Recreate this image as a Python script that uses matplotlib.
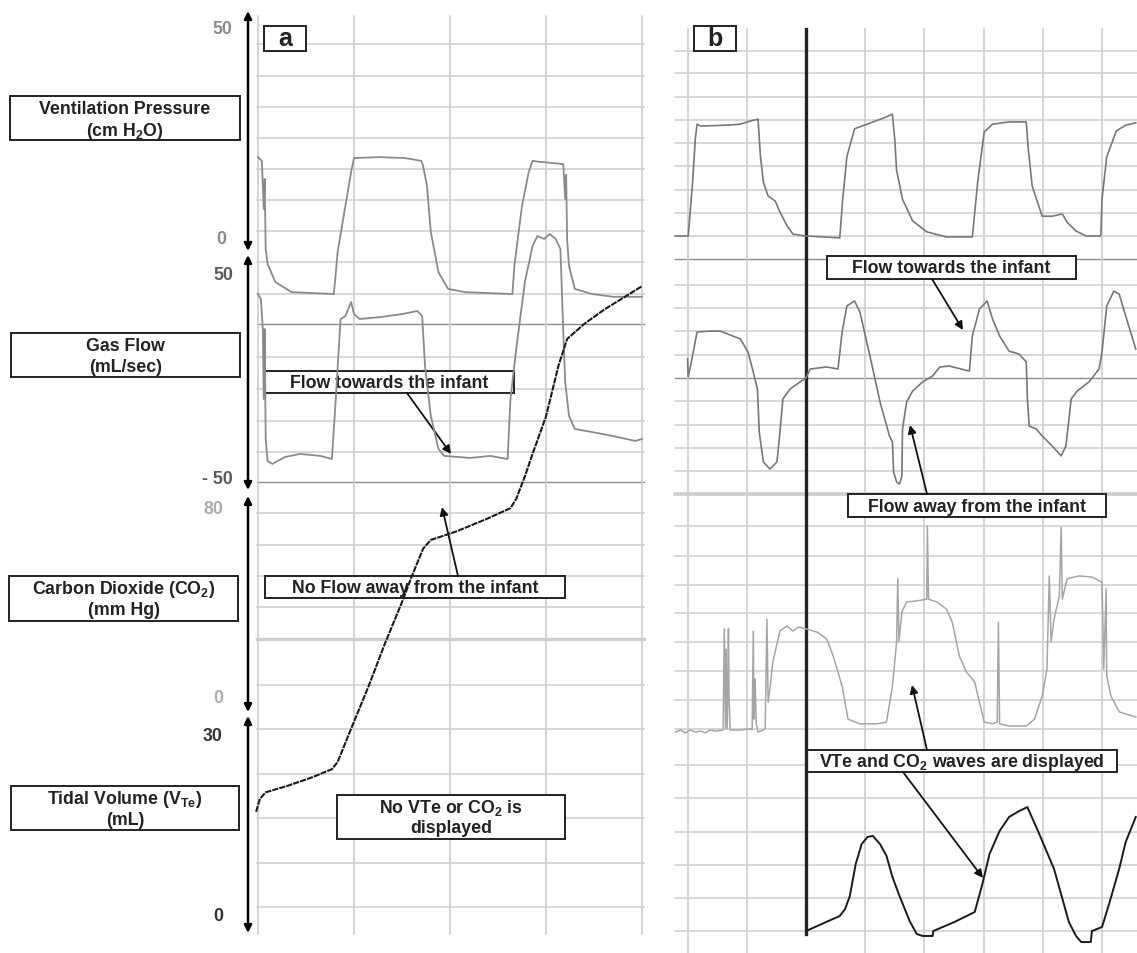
import matplotlib
matplotlib.use("Agg")
import matplotlib.pyplot as plt
from matplotlib.patches import Rectangle

plt.rcParams['font.family'] = ['Liberation Sans', 'DejaVu Sans']
plt.rcParams['font.weight'] = 'bold'
plt.rcParams['mathtext.fontset'] = 'custom'
plt.rcParams['mathtext.rm'] = 'Liberation Sans:bold'
plt.rcParams['mathtext.it'] = 'Liberation Sans:bold'
plt.rcParams['mathtext.bf'] = 'Liberation Sans:bold'
plt.rcParams['mathtext.default'] = 'rm'

# ---------------- DATA ----------------
# Panel a: time in grid divisions
a_pres_t = [0, 0.04, 0.06, 0.07, 0.08, 0.10, 0.18, 0.35, 0.79, 0.83, 0.91, 0.97, 1.00, 1.27, 1.53,
            1.70, 1.72, 1.76, 1.80, 1.88, 1.98, 2.16, 2.65, 2.67, 2.75, 2.82, 2.86, 2.93, 3.18,
            3.20, 3.21, 3.22, 3.24, 3.30, 3.48, 3.70, 4.00]
a_pres_v = [19.8, 19.0, 8.6, 15.1, 0.0, -3.2, -7.1, -9.3, -9.7, -0.6, 9.3, 16.6, 19.6, 19.8, 19.6,
            19.0, 17.9, 13.6, 3.7, -5.0, -8.6, -9.3, -9.7, -3.7, 9.3, 16.6, 19.0, 18.8, 18.3,
            10.8, 16.0, 2.0, -3.7, -8.6, -9.7, -10.3, -10.3]

a_flow_t = [0, 0.03, 0.05, 0.06, 0.07, 0.08, 0.10, 0.15, 0.28, 0.44, 0.65, 0.77, 0.81, 0.86, 0.91,
            0.97, 1.00, 1.06, 1.28, 1.50, 1.66, 1.71, 1.74, 1.80, 1.88, 1.94, 2.21, 2.42, 2.60,
            2.63, 2.69, 2.78, 2.86, 2.91, 2.98, 3.04, 3.10, 3.15, 3.18, 3.20, 3.24, 3.30, 3.48,
            3.70, 3.93, 4.00]
a_flow_v = [33.4, 31.2, 17.7, -13.7, 17.7, -31.6, -41.5, -42.8, -39.7, -38.3, -39.2, -40.6, -13.7,
            22.2, 23.5, 29.8, 24.4, 22.2, 23.1, 24.4, 25.8, 23.5, 1.1, -21.3, -36.1, -39.2, -40.1,
            -39.2, -40.6, -13.7, 8.7, 38.8, 54.9, 59.4, 58.1, 60.3, 58.1, 53.6, 16.4, -6.1, -21.3,
            -27.1, -28.5, -30.3, -32.5, -31.6]

a_vte_t = [-0.02, 0.02, 0.08, 0.31, 0.57, 0.77, 0.83, 0.97, 1.15, 1.32, 1.50, 1.60, 1.72, 1.80,
           2.07, 2.38, 2.63, 2.69, 2.78, 2.86, 3.00, 3.13, 3.22, 3.40, 3.61, 3.83, 4.00]
a_vte_v = [16.9, 18.7, 19.6, 20.5, 21.7, 22.8, 23.8, 28.4, 34.2, 40.1, 45.9, 49.4, 53.3, 54.5,
           55.7, 57.4, 58.9, 60.2, 63.3, 66.4, 71.6, 78.6, 82.3, 84.4, 86.4, 88.2, 89.6]

# Panel b: time in grid divisions, 0 at the event line
b_pres_t = [-2.21, -1.99, -1.92, -1.87, -1.84, -1.78, -1.33, -1.11, -0.94, -0.81, -0.77, -0.72,
            -0.64, -0.52, -0.44, -0.32, -0.22, 0, 0.57, 0.62, 0.69, 0.82, 1.03, 1.36, 1.46, 1.50,
            1.53, 1.63, 1.80, 2.04, 2.37, 2.81, 2.90, 3.01, 3.15, 3.43, 3.72, 3.75, 3.82, 3.91,
            3.99, 4.16, 4.33, 4.41, 4.56, 4.73, 4.98, 5.00, 5.08, 5.24, 5.40, 5.57]
b_pres_v = [0, 0, 10.9, 21.1, 24.3, 23.9, 24.1, 24.3, 25.0, 25.4, 17.4, 11.7, 8.7, 7.6, 5.2, 2.2,
            0.4, 0, -0.4, 8.0, 17.2, 23.3, 24.3, 25.9, 26.5, 20.9, 14.3, 8.0, 3.3, 0.9, -0.2, -0.2,
            11.7, 22.6, 24.3, 24.8, 24.8, 19.6, 10.9, 7.4, 4.3, 4.3, 4.8, 3.0, 1.1, 0, 0, 8.0,
            17.2, 22.8, 24.1, 24.6]

b_flow_t = [-2.00, -1.99, -1.95, -1.84, -1.62, -1.45, -1.28, -1.11, -0.98, -0.89, -0.82, -0.79,
            -0.72, -0.61, -0.49, -0.44, -0.39, -0.27, -0.10, 0, 0.07, 0.35, 0.54, 0.61, 0.69,
            0.82, 0.91, 1.08, 1.25, 1.41, 1.46, 1.48, 1.53, 1.58, 1.62, 1.63, 1.70, 1.80, 1.97,
            2.14, 2.26, 2.42, 2.76, 2.81, 2.93, 3.06, 3.15, 3.27, 3.43, 3.60, 3.72, 3.74, 3.77,
            3.89, 3.99, 4.16, 4.31, 4.39, 4.48, 4.58, 4.78, 4.95, 5.00, 5.08, 5.20, 5.29, 5.40,
            5.57]
b_flow_v = [8.3, 0.4, 5.2, 20.0, 20.4, 20.4, 18.7, 17.0, 11.3, 2.6, -4.8, -23.5, -36.5, -39.6,
            -36.5, -23.5, -9.1, -4.8, -1.7, 0, 3.9, 4.8, 3.9, 20.0, 31.3, 33.5, 28.7, 9.6, -10.4,
            -25.2, -27.8, -40.9, -45.2, -46.1, -42.6, -22.2, -10.4, -5.7, -1.7, 0.9, 4.8, 5.2,
            3.0, 18.3, 30.0, 33.5, 25.7, 18.3, 11.7, 10.4, 7.0, -9.1, -20.9, -22.2, -25.2, -29.6,
            -33.9, -29.6, -9.1, -5.7, -1.7, 3.9, 11.3, 31.3, 37.8, 36.5, 27.0, 12.6]

b_co2_t = [-2.205, -2.12, -2.04, -1.95, -1.87, -1.78, -1.70, -1.62, -1.53, -1.40, -1.38, -1.36,
           -1.35, -1.33, -1.31, -1.30, -1.28, -1.11, -0.94, -0.91, -0.89, -0.88, -0.86, -0.84,
           -0.81, -0.72, -0.69, -0.66, -0.64, -0.61, -0.56, -0.44, -0.32, -0.22, -0.13, 0,
           0.19, 0.35, 0.46, 0.61, 0.71, 0.91, 1.20, 1.36, 1.46, 1.53, 1.55, 1.57, 1.62, 1.70,
           1.87, 2.04, 2.05, 2.07, 2.21, 2.37, 2.47, 2.59, 2.71, 2.85, 2.93, 3.01, 3.15, 3.23,
           3.25, 3.27, 3.43, 3.72, 3.86, 3.99, 4.07, 4.11, 4.14, 4.19, 4.28, 4.31, 4.33, 4.41,
           4.61, 4.83, 5.00, 5.03, 5.07, 5.08, 5.15, 5.29, 5.57]
b_co2_v = [-0.6, 0, -0.8, 0, -0.6, -0.3, -0.8, 0, -0.3, 0, 27.9, 0.3, 22.3, 0.3, 27.9, 8.6, 0,
           0, 0.3, 0, 27.3, 3.0, 14.1, 1.7, -0.6, 0, 0.3, 30.6, 7.7, 11.3, 18.8, 27.3, 28.7,
           27.3, 28.4, 27.9, 27.0, 25.1, 20.4, 12.1, 3.0, 1.7, 1.7, 2.2, 12.1, 24.3, 41.7, 24.3,
           32.6, 35.3, 35.6, 36.1, 56.3, 36.1, 35.3, 33.4, 29.8, 20.4, 16.0, 13.2, 7.7, 2.2,
           1.7, 2.2, 29.8, 1.7, 1.1, 1.1, 3.0, 9.4, 16.8, 42.5, 24.3, 30.6, 37.0, 56.0, 36.1,
           41.7, 42.5, 42.2, 40.8, 16.8, 38.9, 14.9, 9.4, 5.0, 3.6]

b_vte_t = [0, 0.57, 0.66, 0.74, 0.84, 0.94, 1.04, 1.13, 1.25, 1.36, 1.46, 1.58, 1.75, 1.87, 1.97,
           2.14, 2.15, 2.51, 2.85, 2.98, 3.10, 3.27, 3.43, 3.60, 3.74, 3.94, 4.19, 4.44, 4.56,
           4.65, 4.81, 4.83, 5.00, 5.12, 5.29, 5.40, 5.57]
b_vte_v = [0, 0.91, 1.33, 2.12, 4.06, 5.27, 5.70, 5.76, 5.27, 4.55, 3.27, 2.12, 0.61, -0.18,
           -0.30, -0.30, 0, 0.55, 1.15, 2.85, 4.67, 6.06, 6.91, 7.27, 7.51, 5.88, 3.76, 0.55,
           -0.30, -0.67, -0.67, 0, 0.24, 1.64, 3.76, 5.39, 6.91]

a_ticks = ["50", "0", "50", "- 50", "80", "0", "30", "0"]
left_labels = [("Ventilation Pressure", "(cm H$_2$O)"),
               ("Gas Flow", "(mL/sec)"),
               ("Carbon Dioxide (CO$_2$)", "(mm Hg)"),
               ("Tidal Volume (V$_{\\mathrm{Te}}$)", "(mL)")]

# ---------------- LAYOUT ----------------
W, H = 1137, 954
FS = 12.8
fig = plt.figure(figsize=(W / 100, H / 100), dpi=100)
bg = fig.add_axes([0, 0, 1, 1])
bg.set_xlim(0, W)
bg.set_ylim(H, 0)
bg.axis('off')
bg.set_zorder(0)

GRID = '#cdcdcd'
DARK = '#8e8e8e'

# panel geometry (pixels)
A_X0, A_X1, A_Y0, A_Y1 = 258, 642, 18, 935
A_XLIM = (0, 4)
B_X0, B_X1, B_Y0, B_Y1 = 675, 1137, 18, 954
B_ORIG, B_DIV = 806, 59.2
B_XLIM = ((B_X0 - B_ORIG) / B_DIV, (B_X1 - B_ORIG) / B_DIV)


def t2px(t, x0, x1, xlim):
    return x0 + (t - xlim[0]) / (xlim[1] - xlim[0]) * (x1 - x0)


# horizontal grid rows
a_rows = [45, 77, 108, 139, 170, 201, 232, 263, 295, 358, 390, 422, 453, 514, 546, 577, 608,
          686, 730, 775, 819, 864, 908]
for y in a_rows:
    bg.plot([257, 644], [y, y], color=GRID, lw=1.1, zorder=1)
for y in [325, 483]:
    bg.plot([257, 644], [y, y], color=DARK, lw=1.0, zorder=1)
bg.plot([257, 644], [640, 640], color=GRID, lw=2.4, zorder=1)
for t in range(0, 5):
    x = t2px(t, A_X0, A_X1, A_XLIM)
    bg.plot([x, x], [17, 935], color=GRID, lw=1.2, zorder=1)

b_rows = [52, 74, 98, 121, 144, 167, 191, 214, 237, 286, 309, 332, 356, 402, 426, 449, 472,
          527, 557, 586, 614, 643, 672, 701, 730, 766, 799, 833, 866, 899, 932]
for y in b_rows:
    bg.plot([675, 1137], [y, y], color=GRID, lw=1.1, zorder=1)
for y in [260, 379]:
    bg.plot([675, 1137], [y, y], color=DARK, lw=1.0, zorder=1)
bg.plot([675, 1137], [495, 495], color=GRID, lw=2.6, zorder=1)
for t in [-2, -1, 1, 2, 3, 4, 5]:
    x = t2px(t, B_X0, B_X1, B_XLIM)
    bg.plot([x, x], [30, 954], color=GRID, lw=1.2, zorder=1)
xe = t2px(0, B_X0, B_X1, B_XLIM)
bg.plot([xe, xe], [30, 935], color='#222222', lw=2.4, zorder=6)


def box(x0, y0, x1, y1, lw=1.4, z=3):
    bg.add_patch(Rectangle((x0, y0), x1 - x0, y1 - y0, facecolor='white',
                           edgecolor='#222222', lw=lw, zorder=z))


# left label boxes
lbl_boxes = [(10, 97, 240, 141), (11, 334, 240, 378), (9, 577, 238, 622), (11, 787, 239, 831)]
for (x0, y0, x1, y1), (l1, l2) in zip(lbl_boxes, left_labels):
    box(x0, y0, x1, y1)
    cx = (x0 + x1) / 2
    bg.text(cx, y0 + 13, l1, ha='center', va='center', fontsize=FS, color='#222222', zorder=4)
    bg.text(cx, y0 + 34, l2, ha='center', va='center', fontsize=FS, color='#222222', zorder=4)

# left scale arrows
for ytop, ybot in [(12, 252), (256, 491), (497, 713), (717, 934)]:
    bg.annotate('', xy=(248, ytop), xytext=(248, ybot),
                arrowprops=dict(arrowstyle='<|-|>', color='black', lw=1.8,
                                mutation_scale=11, shrinkA=0, shrinkB=0), zorder=5)

tick_pos = [(232, 29), (226, 240), (233, 276), (233, 480), (223, 510), (223, 699), (223, 737),
            (223, 917)]
tick_col = ['#8a8a8a', '#8a8a8a', '#5a5a5a', '#5a5a5a', '#ababab', '#ababab', '#333333', '#333333']
for s, (x, y), c in zip(a_ticks, tick_pos, tick_col):
    bg.text(x, y, s, ha='right', va='center', fontsize=12.8, color=c, zorder=4)

# panel letters
box(264, 27, 306, 52)
bg.text(285, 39.5, 'a', ha='center', va='center', fontsize=18, color='#222222', zorder=4)
box(694, 27, 736, 52)
bg.text(715, 39.5, 'b', ha='center', va='center', fontsize=18, color='#222222', zorder=4)

# annotation boxes
ann = [
    ((264, 372, 514, 394), "Flow towards the infant"),
    ((265, 577, 565, 599), "No Flow away from the infant"),
    ((827, 257, 1076, 280), "Flow towards the infant"),
    ((848, 495, 1106, 518), "Flow away from the infant"),
    ((807, 751, 1117, 773), "VTe and CO$_2$ waves are displayed"),
]
for (x0, y0, x1, y1), s in ann:
    box(x0, y0, x1, y1)
    bg.text((x0 + x1) / 2, (y0 + y1) / 2 + 0.5, s, ha='center', va='center', fontsize=FS,
            color='#222222', zorder=4)
box(337, 796, 565, 840)
bg.text(451, 808, "No VTe or CO$_2$ is", ha='center', va='center', fontsize=FS,
        color='#222222', zorder=4)
bg.text(451, 829, "displayed", ha='center', va='center', fontsize=FS, color='#222222', zorder=4)

arrows = [((407, 394), (451, 455)), ((458, 577), (442, 508)), ((932, 280), (963, 331)),
          ((927, 495), (910, 426)), ((927, 751), (912, 686)), ((903, 773), (983, 879))]
for (xs, ys), (xt, yt) in arrows:
    bg.annotate('', xy=(xt, yt), xytext=(xs, ys),
                arrowprops=dict(arrowstyle='-|>', color='#111111', lw=1.3, mutation_scale=12,
                                shrinkA=0, shrinkB=0), zorder=8)


def trace_axes(x0, x1, y0, y1, xlim, v0_px, ppu):
    ax = fig.add_axes([x0 / W, 1 - y1 / H, (x1 - x0) / W, (y1 - y0) / H])
    ax.set_xlim(*xlim)
    ax.set_ylim((v0_px - y1) / ppu, (v0_px - y0) / ppu)
    ax.axis('off')
    ax.set_zorder(2)
    return ax


# panel a traces
ax = trace_axes(A_X0, A_X1, A_Y0, A_Y1, A_XLIM, 250, 4.64)
ax.plot(a_pres_t, a_pres_v, color='#8a8a8a', lw=1.3, clip_on=False)
ax = trace_axes(A_X0, A_X1, A_Y0, A_Y1, A_XLIM, 369.5, 2.23)
ax.plot(a_flow_t, a_flow_v, color='#8a8a8a', lw=1.3, clip_on=False)
ax = trace_axes(A_X0, A_X1, A_Y0, A_Y1, A_XLIM, 935, 7.23)
ax.plot(a_vte_t, a_vte_v, color='#1a1a1a', lw=1.5, ls=(0, (3, 0.5)), clip_on=False)

# panel b traces
ax = trace_axes(B_X0, B_X1, B_Y0, B_Y1, B_XLIM, 237, 4.6)
ax.plot(b_pres_t, b_pres_v, color='#777777', lw=1.2, clip_on=False)
ax = trace_axes(B_X0, B_X1, B_Y0, B_Y1, B_XLIM, 379, 2.3)
ax.plot(b_flow_t, b_flow_v, color='#777777', lw=1.2, clip_on=False)
ax = trace_axes(B_X0, B_X1, B_Y0, B_Y1, B_XLIM, 731, 3.625)
ax.plot(b_co2_t, b_co2_v, color='#a5a5a5', lw=1.1, clip_on=False)
ax = trace_axes(B_X0, B_X1, B_Y0, B_Y1, B_XLIM, 932, 16.5)
ax.plot(b_vte_t, b_vte_v, color='#1a1a1a', lw=1.4, clip_on=False)

fig.savefig('out.png', dpi=100, facecolor='white')
